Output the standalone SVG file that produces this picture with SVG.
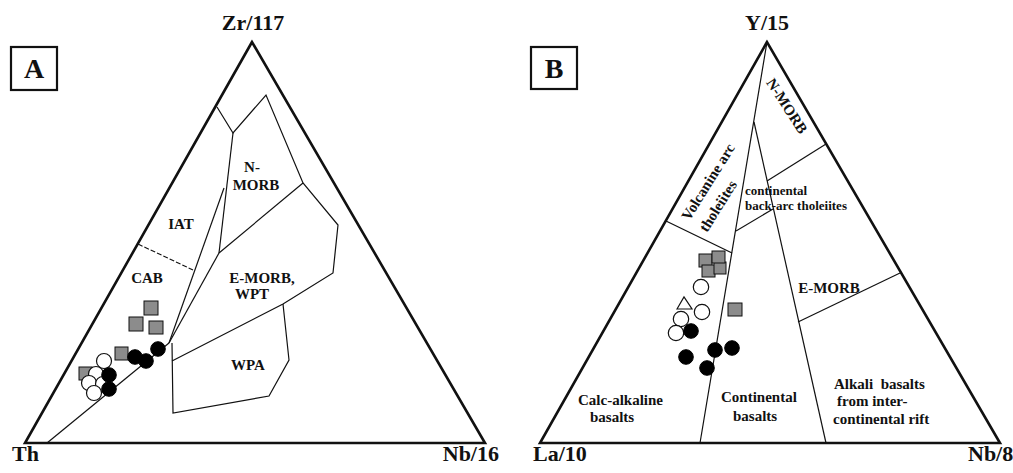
<svg xmlns="http://www.w3.org/2000/svg" width="1013" height="473" viewBox="0 0 1013 473">
<style>
text{font-family:"Liberation Serif","Times New Roman",serif;font-weight:bold;fill:#111}
.ax{font-size:22px}
.lab{font-size:15px}
.sm{font-size:13px}
.tri{fill:none;stroke:#111;stroke-width:2.6;stroke-linejoin:miter}
.ln{fill:none;stroke:#111;stroke-width:1.2}
.dash{fill:none;stroke:#111;stroke-width:1.1;stroke-dasharray:5 2}
.box{fill:#fff;stroke:#111;stroke-width:2.2}
.sq{fill:#8c8c8c;stroke:#111;stroke-width:1}
.wc{fill:#fff;stroke:#111;stroke-width:1.2}
.bc{fill:#000;stroke:#000;stroke-width:1}
</style>
<rect width="1013" height="473" fill="#fff"/>

<!-- Panel A -->
<g id="panelA">
  <g id="A-frame">
    <polygon class="tri" points="252,42 25,443 485,443"/>
    <rect class="box" x="11" y="47" width="46" height="43"/>
    <text x="34" y="78" text-anchor="middle" style="font-size:28px">A</text>
    <text class="ax" x="253" y="30" text-anchor="middle">Zr/117</text>
    <text class="ax" x="12" y="461">Th</text>
    <text class="ax" x="499" y="461" text-anchor="end">Nb/16</text>
  </g>
  <g id="A-boundaries">
    <polyline class="ln" points="217,107 233,133 266,95 303,183 338,225 333,273 283,304 172,361"/>
    <line class="ln" x1="303" y1="183" x2="219" y2="253"/>
    <line class="ln" x1="233" y1="133" x2="219" y2="253"/>
    <line class="ln" x1="224" y1="188" x2="169" y2="343"/>
    <line class="ln" x1="219" y1="253" x2="169" y2="343"/>
    <line class="ln" x1="169" y1="343" x2="47" y2="443"/>
    <polyline class="ln" points="172,343 173,413 269,396 289,360 283,304"/>
    <line class="dash" x1="138" y1="244" x2="193" y2="270"/>
  </g>
  <g id="A-labels">
    <text class="lab" x="252" y="172" text-anchor="middle">N-</text>
    <text class="lab" x="256" y="190" text-anchor="middle">MORB</text>
    <text class="lab" x="181" y="229" text-anchor="middle">IAT</text>
    <text class="lab" x="147" y="283" text-anchor="middle">CAB</text>
    <text class="lab" x="262" y="283" text-anchor="middle">E-MORB,</text>
    <text class="lab" x="252" y="299" text-anchor="middle">WPT</text>
    <text class="lab" x="248" y="370" text-anchor="middle">WPA</text>
  </g>
  <g id="A-data">
    <rect class="sq" x="144" y="301" width="14" height="14"/>
    <rect class="sq" x="129" y="317" width="14" height="14"/>
    <rect class="sq" x="149" y="321" width="14" height="13"/>
    <rect class="sq" x="115" y="347" width="13" height="13"/>
    <rect class="sq" x="79" y="367" width="13" height="13"/>
    <circle class="wc" cx="104" cy="361" r="7.5"/>
    <circle class="wc" cx="96" cy="374" r="7.5"/>
    <circle class="wc" cx="89" cy="383" r="7.5"/>
    <circle class="wc" cx="103" cy="384" r="7.5"/>
    <circle class="wc" cx="94" cy="393" r="7.5"/>
    <circle class="bc" cx="109" cy="375" r="7.3"/>
    <circle class="bc" cx="109" cy="389" r="7.3"/>
    <circle class="bc" cx="135" cy="357" r="7.3"/>
    <circle class="bc" cx="146" cy="361" r="7.3"/>
    <circle class="bc" cx="158" cy="349" r="7.3"/>
  </g>
</g>

<!-- Panel B -->
<g id="panelB">
  <g id="B-frame">
    <polygon class="tri" points="767,42 540,443 1000,443"/>
    <rect class="box" x="531" y="47" width="46" height="42"/>
    <text x="554" y="78" text-anchor="middle" style="font-size:28px">B</text>
    <text class="ax" x="767" y="30" text-anchor="middle">Y/15</text>
    <text class="ax" x="533" y="461">La/10</text>
    <text class="ax" x="968" y="461">Nb/8</text>
  </g>
  <g id="B-boundaries">
    <line class="ln" x1="767" y1="42" x2="700" y2="443"/>
    <line class="ln" x1="754" y1="122" x2="826" y2="443"/>
    <line class="ln" x1="826" y1="144" x2="767" y2="181"/>
    <line class="ln" x1="736" y1="231" x2="773" y2="209"/>
    <line class="ln" x1="666" y1="221" x2="732" y2="253"/>
    <line class="ln" x1="900" y1="273" x2="798" y2="322"/>
  </g>
  <g id="B-labels">
    <text class="lab" transform="translate(787,106) rotate(57)" x="0" y="5" text-anchor="middle">N-MORB</text>
    <text class="lab" transform="translate(708,182) rotate(-58)" x="0" y="5" text-anchor="middle">Volcanine arc</text>
    <text class="lab" transform="translate(718,206) rotate(-58)" x="0" y="5" text-anchor="middle">tholeiites</text>
    <text class="sm" x="745" y="195">continental</text>
    <text class="sm" x="745" y="210">back-arc tholeiites</text>
    <text class="lab" x="829" y="293" text-anchor="middle">E-MORB</text>
    <text class="lab" x="578" y="405">Calc-alkaline</text>
    <text class="lab" x="590" y="422">basalts</text>
    <text class="lab" x="721" y="402">Continental</text>
    <text class="lab" x="733" y="421">basalts</text>
    <text class="lab" x="834" y="389" xml:space="preserve">Alkali  basalts</text>
    <text class="lab" x="837" y="406">from inter-</text>
    <text class="lab" x="833" y="424">continental rift</text>
  </g>
  <g id="B-data">
    <rect class="sq" x="699" y="254" width="13" height="13"/>
    <rect class="sq" x="702" y="265" width="13" height="12"/>
    <rect class="sq" x="714" y="262" width="12" height="12"/>
    <rect class="sq" x="712" y="251" width="13" height="12"/>
    <rect class="sq" x="728" y="303" width="14" height="13"/>
    <circle class="wc" cx="701" cy="287" r="7.7"/>
    <circle class="wc" cx="702" cy="312" r="7.7"/>
    <circle class="wc" cx="681" cy="319" r="7.7"/>
    <circle class="wc" cx="676" cy="333" r="7.7"/>
    <polygon class="wc" points="677,309 684,297 692,309"/>
    <circle class="bc" cx="691" cy="331" r="7.3"/>
    <circle class="bc" cx="686" cy="357" r="7.3"/>
    <circle class="bc" cx="715" cy="350" r="7.3"/>
    <circle class="bc" cx="732" cy="348" r="7.3"/>
    <circle class="bc" cx="707" cy="368" r="7.3"/>
  </g>
</g>
</svg>
